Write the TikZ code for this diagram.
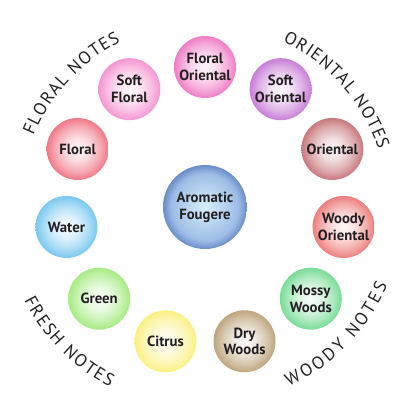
\documentclass[tikz,border=0pt]{standalone}
\usepackage{fontspec}
\newfontfamily\notefont{PT Sans}
\usetikzlibrary{decorations.text}

\definecolor{ink}{HTML}{231F20}
\definecolor{florient}{HTML}{F07CC4}
\definecolor{softfloral}{HTML}{F596D2}
\definecolor{floral}{HTML}{F07887}
\definecolor{water}{HTML}{78C8F0}
\definecolor{green}{HTML}{A5EB82}
\definecolor{citrus}{HTML}{FAF082}
\definecolor{drywoods}{HTML}{BEA57D}
\definecolor{mossy}{HTML}{78DC96}
\definecolor{woodyor}{HTML}{EE7D7D}
\definecolor{oriental}{HTML}{C8787D}
\definecolor{softor}{HTML}{C87DD7}
\definecolor{coreout}{HTML}{698CC8}
\definecolor{coremid}{HTML}{9DBDE6}
\definecolor{corein}{HTML}{D7EEFA}

\colorlet{ring}{white}
\pgfdeclareradialshading[ring]{bubble}{\pgfpoint{0bp}{0bp}}{%
  color(0bp)=(ring!6!white); color(9bp)=(ring!25!white);
  color(18bp)=(ring!62!white); color(25bp)=(ring); color(50bp)=(ring)}
\pgfdeclareradialshading{core}{\pgfpoint{0bp}{0bp}}{%
  color(0bp)=(corein); color(12bp)=(coremid!60!corein);
  color(20bp)=(coremid); color(25bp)=(coreout); color(50bp)=(coreout)}

\tikzset{
  tint/.code={\colorlet{ring}{#1}},
  bubble/.style={circle, minimum size=1.55cm, inner sep=0pt, align=center,
    text=ink, font=\notefont\bfseries\fontsize{10.5}{12}\selectfont,
    shading=bubble, tint=#1},
  arcnote/.style={decorate, decoration={text along path,
    text align=fit to path, text color=ink,
    text={|\notefont\fontsize{12.5}{14}\selectfont|#1}}}
}

\begin{document}
\begin{tikzpicture}
        \useasboundingbox (-5.125,-5.15) rectangle (5.2,5.175);

        % the middle
        \node[bubble=white, shading=core, minimum size=2.1cm] (fougere) at (0,0)
        {Aromatic\\Fougere};

        % the wheel
        \node[bubble=florient] (florient) at (90:3.5) {Floral\\Oriental};
        \node[bubble=softor] (softor) at (57.3:3.5) {Soft\\Oriental};
        \node[bubble=oriental] (oriental) at (24.5:3.5) {Oriental};
        \node[bubble=woodyor] (woodyor) at (-8.2:3.5) {Woody\\Oriental};
        \node[bubble=mossy] (mossy) at (-40.9:3.5) {Mossy\\Woods};
        \node[bubble=drywoods] (drywoods) at (-73.6:3.5) {Dry\\Woods};
        \node[bubble=citrus] (citrus) at (-106.4:3.5) {Citrus};
        \node[bubble=green] (green) at (-139.1:3.5) {Green};
        \node[bubble=water] (water) at (-171.8:3.5) {Water};
        \node[bubble=floral] (floral) at (155.5:3.5) {Floral};
        \node[bubble=softfloral] (softfloral) at (122.7:3.5) {Soft\\Floral};

        % family names on arcs
        \path[arcnote={FLORAL NOTES}] (157.5:4.64) arc[start angle=157.5, end angle=117, radius=4.64];
        \path[arcnote={ORIENTAL NOTES}] (64.8:4.57) arc[start angle=64.8, end angle=18.3, radius=4.57];
        \path[arcnote={FRESH NOTES}] (207.3:5.09) arc[start angle=207.3, end angle=242.2, radius=5.09];
        \path[arcnote={WOODY NOTES}] (-65:4.96) arc[start angle=-65, end angle=-23.2, radius=4.96];
      \end{tikzpicture}
\end{document}
